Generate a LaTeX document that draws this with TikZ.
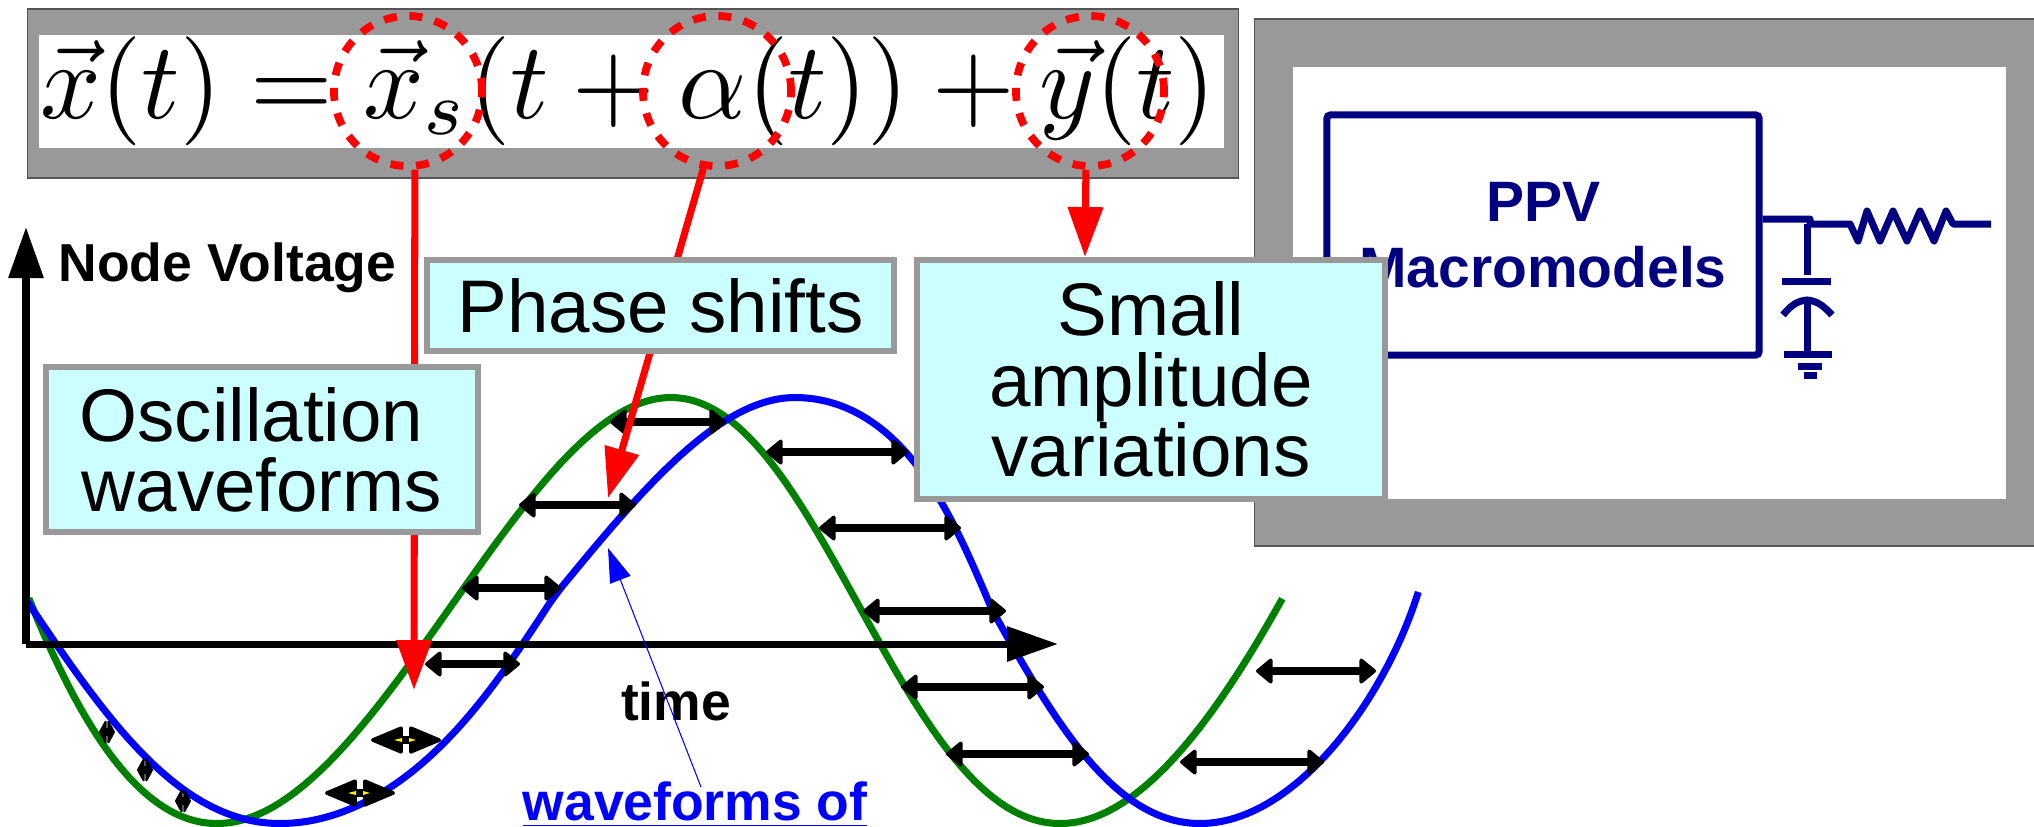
\documentclass[tikz,border=0pt]{standalone}
\usepackage[no-math]{fontspec}
\usepackage{graphicx}
\setmainfont{Liberation Sans}
\usetikzlibrary{arrows.meta, shapes.geometric}
\definecolor{framegray}{HTML}{999999}
\definecolor{frameedge}{HTML}{555555}
\definecolor{notecyan}{HTML}{CCFFFF}
\definecolor{ppvnavy}{HTML}{000080}
\definecolor{wavegreen}{HTML}{008000}
\tikzset{
  grayframe/.style={draw=frameedge, line width=0.4pt, fill=framegray, inner sep=0pt},
  whitepane/.style={fill=white, inner sep=0pt},
  ring/.style={ellipse, draw=red, line width=2.2pt, dash pattern=on 3.7pt off 3.6pt, inner sep=0pt, minimum width=1.48cm, minimum height=1.5cm},
  note/.style={draw=framegray, line width=1.7pt, fill=notecyan, align=center, inner sep=0pt, font=\fontsize{21.2}{20}\selectfont},
  label/.style={font=\fontsize{15.2}{18.5}\selectfont\bfseries, inner sep=0pt, align=center},
  axis/.style={-{Triangle[length=14.5pt,width=9.6pt]}, line width=2pt, draw=black},
  redarrow/.style={-{Triangle[length=14.2pt,width=9.7pt]}, line width=2pt, draw=red},
  bluearrow/.style={-{Triangle[length=9.7pt,width=6.2pt]}, line width=0.3pt, draw=blue},
  wave/.style={line width=2pt, samples=140, smooth, variable=\t},
  shiftarrow/.style={{Triangle[length=#1,width=8pt,round,line width=1pt]}-{Triangle[length=#1,width=8pt,round,line width=1pt]}, line width=2.1pt, draw=black},
  wire/.style={draw=ppvnavy, line width=2pt},
  declare function={
    tail(\t)=max(\t-pi,0);
    cube(\t)=tail(\t)*tail(\t)*tail(\t);
    wavey(\t)=610.5-213*cos(\t r);
    greenx(\t)=671+134.2*\t-4*sin(\t r)-16.25*(1-cos(\t r))-4*(cube(\t)-cube(-\t));
    bluex(\t)=795+146.4*\t-5*sin(\t r)-27.5*(1-cos(\t r))-13*cube(\t)-25*tail(-\t)+14*max(sin(2*\t r),0)*(\t>0)*(\t<1.5708)+18*sin(1.916*(\t+pi) r)*(\t<-1.5)*(\t>-3.1416);
  },
}
\begin{document}
\begin{tikzpicture}[x=0.01cm, y=-0.01cm]
  \useasboundingbox (0,0) rectangle (2034,826);

  % Equation at the top
  \node[grayframe, minimum width=12.1cm, minimum height=1.69cm] (eqframe) at (633,93.5) {};
  \node[whitepane, minimum width=11.85cm, minimum height=1.13cm] (eqpane) at (631.5,91.5) {};
  \node[inner sep=0pt] (equation) at (628,91) {\scalebox{3.02}[3.1]{$\vec{x}(t) = \vec{x}_s(t + \alpha(t)) + \vec{y}(t)$}};

  % Macromodel panel on the right
  \node[grayframe, minimum width=7.85cm, minimum height=5.27cm] (ppvframe) at (1647.5,282.5) {};
  \node[whitepane, minimum width=7.13cm, minimum height=4.32cm] (ppvpane) at (1649.5,283) {};
  \node[label, wire, rounded corners=1pt, text=ppvnavy, font=\fontsize{16.2}{18.8}\selectfont\bfseries,
    minimum width=4.32cm, minimum height=2.4cm] (ppv) at (1543,235) {PPV\\Macromodels};

  % Output wire, resistor, capacitor and ground
  \coordinate (tee) at (1807,224);
  \coordinate (wireend) at (1991,224);
  \draw[wire, line join=round] (ppv.east |- 0,219) -- (1810,219) -- (1810,224) -- (1850,224)
    -- (1858,241) -- (1867,211) -- (1880,241) -- (1893,211) -- (1907,241) -- (1920,211)
    -- (1934,241) -- (1946,211) -- (1953,224) -- (wireend);
  \coordinate (capa) at (1807,275);
  \coordinate (capb) at (1807,300);
  \coordinate (gnd) at (1807,354);
  \draw[wire] (tee) -- (capa);
  \draw[wire] (1782,281) -- (1831,281);
  \draw[wire] (1783,315) .. controls (1792,304) and (1798,301) .. (capb) .. controls (1816,301) and (1822,304) .. (1832,315);
  \draw[wire] (capb) -- (gnd);
  \draw[wire] (1784,354.5) -- (1832,354.5);
  \draw[wire] (1798,366.5) -- (1822,366.5);
  \draw[wire] (1804,375.5) -- (1817,375.5);

  % The two waveforms
  \draw[wave, draw=wavegreen, domain=-4.77:4.77] plot ({greenx(\t)},{wavey(\t)});
  \draw[wave, draw=blue, domain=-4.77:4.8] plot ({bluex(\t)},{wavey(\t)});

  % Axes
  \coordinate (origin) at (26,644);
  \coordinate (ytip) at (26,227);
  \coordinate (xtip) at (1058,644);
  \draw[axis] (origin) -- (ytip);
  \draw[axis] (origin) -- (xtip);
  \node[label, anchor=west] (ylabel) at (58,268) {Node Voltage};
  \node[label] (xlabel) at (676,701) {time};

  % Phase shift arrows between the curves
  \foreach \name/\xa/\xb/\yy/\tip in {a/610/726/422/5pt, b/766/908/452/5pt, c/519/636/505/5pt, d/819/961/528/5pt,
    e/462/561/588/5pt, f/863/1006/611/5pt, g/425/520/664/5pt, h/901/1044/687/5pt, i/1256/1376/671/5pt,
    j/946/1089/754/5pt, k/1180/1324/762/5pt, l/371/441/740/9.9pt, m/325/395/793/9.9pt,
    n/99/115/732/2.2pt, o/137/153/770/2.2pt, p/175/191/801/2.2pt} {
    \coordinate (left\name) at (\xa,\yy);
    \coordinate (right\name) at (\xb,\yy);
    \draw[shiftarrow=\tip] (left\name) -- (right\name);
  }
  \foreach \xc/\yc in {406/740, 360/793} {
    \fill[yellow] (\xc-12,\yc) -- (\xc-4,\yc-2) -- (\xc-4,\yc+2) -- cycle;
    \fill[yellow] (\xc+10,\yc) -- (\xc+3,\yc-2) -- (\xc+3,\yc+2) -- cycle;
  }

  % Rings round the three terms, with their red arrows
  \node[ring] (xsring) at (408,91) {};
  \node[ring] (alpharing) at (717,91) {};
  \node[ring] (yring) at (1090,91) {};
  \coordinate (xstip) at (414,690);
  \coordinate (alphatip) at (608,498);
  \coordinate (ytiptext) at (1085,257);
  \draw[redarrow] (xsring.-85) -- (xstip);
  \draw[redarrow] (alpharing.-100) -- (alphatip);
  \draw[redarrow] (yring.-93) -- (ytiptext);

  % Notes
  \node[note, minimum width=4.67cm, minimum height=0.91cm] (phase) at (660.5,305.5) {Phase shifts};
  \node[note, minimum width=4.68cm, minimum height=2.39cm] (small) at (1151,379.5) {Small\\amplitude\\variations};
  \node[note, minimum width=4.32cm, minimum height=1.65cm] (osc) at (262,449.5) {Oscillation\hspace*{6pt}\\waveforms};

  % Label for the blue curve
  \node[label, anchor=base, text=blue] (wavelabel) at (695,820) {\underline{waveforms of}};
  \coordinate (bluetip) at (608,548);
  \draw[bluearrow] (701,787) -- (bluetip);
\end{tikzpicture}
\end{document}
